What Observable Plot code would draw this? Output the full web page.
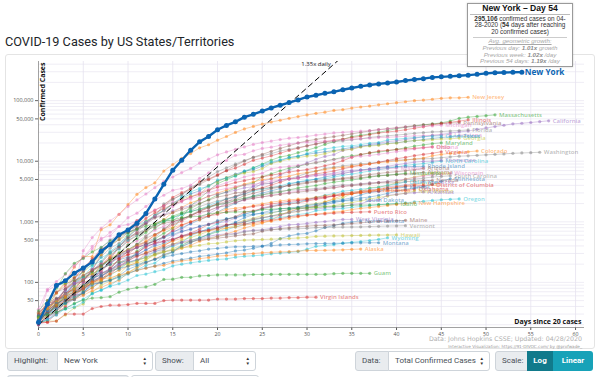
<!DOCTYPE html>
<html><head><meta charset="utf-8">
<script src="https://cdn.jsdelivr.net/npm/d3@7"></script>
<script src="https://cdn.jsdelivr.net/npm/@observablehq/plot@0.6"></script>
<style>
body{margin:0;width:600px;height:377px;overflow:hidden;background:#fff;position:relative;font-family:Roboto,"Open Sans",sans-serif}
#title{position:absolute;left:5px;top:34px;font-size:12.7px;color:#212529;white-space:nowrap}
#panel{position:absolute;left:5px;top:54px;width:588px;height:293px;border:1px solid #e4e4e4;border-radius:3px;background:#fff;overflow:hidden}
#src{position:absolute;right:18px;top:335px;text-align:right;color:#b0b0b0;font-family:"DejaVu Sans",sans-serif;font-size:6.3px;line-height:7px;white-space:nowrap}
#src .s2{font-size:4.2px;line-height:5px;color:#999}
#tip{position:absolute;left:467px;top:3px;width:104px;border:1px solid #9a9a9a;background:rgba(255,255,255,0.97);font-family:"Liberation Sans",Arial,sans-serif;text-align:center;box-shadow:0 0 2px rgba(0,0,0,0.2)}
#tip .t1{font-size:8.6px;font-weight:bold;color:#111;line-height:9.5px;margin:0 2px;border-bottom:1px solid #bbb}
#tip .t2{font-size:6.4px;line-height:6.9px;color:#333;margin:1px 5px 0;border-bottom:1px solid #ccc;padding-bottom:1px}
#tip .t3{font-size:6.2px;line-height:6.7px;color:#a8a8a8;font-style:italic;margin:0 0 1px}
#tip .t3 b{color:#8a8a8a}
.ctl{position:absolute;top:351px;height:20px;box-sizing:border-box;border:1px solid #ced4da;font-size:8px;color:#495057;line-height:18px;padding-left:6px;white-space:nowrap}
.lab{background:#e9ecef}
.sel{background:#fff}
.arr{position:absolute;right:5px;top:4px;font-size:4.5px;line-height:5px;color:#333}
.btn{position:absolute;top:351px;height:20px;color:#fff;font-weight:bold;font-size:8px;line-height:20px;text-align:center}
</style></head>
<body>
<div id="title">COVID-19 Cases by US States/Territories</div>
<div id="panel"></div>
<div id="src">Data: Johns Hopkins CSSE; Updated: 04/28/2020<br><span class="s2">Interactive Visualization: https://91-DIVOC.com/ by @profwade_</span></div>
<div id="tip">
 <div class="t1">New York – Day 54</div>
 <div class="t2"><b>295,106</b> confirmed cases on 04-28-2020 (<b>54</b> days after reaching 20 confirmed cases)</div>
 <div class="t3"><u>Avg. geometric growth:</u><br>Previous day: <b>1.01x</b> growth<br>Previous week: <b>1.02x</b> /day<br>Previous 54 days: <b>1.19x</b> /day</div>
</div>
<div class="ctl lab" style="left:7px;width:51px;border-radius:3px 0 0 3px">Highlight:</div>
<div class="ctl sel" style="left:57px;width:96px;border-radius:0 3px 3px 0">New York<span class="arr">▲<br>▼</span></div>
<div class="ctl lab" style="left:155px;width:39px;border-radius:3px 0 0 3px">Show:</div>
<div class="ctl sel" style="left:193px;width:63px;border-radius:0 3px 3px 0">All<span class="arr">▲<br>▼</span></div>
<div class="ctl lab" style="left:355px;width:34px;border-radius:3px 0 0 3px">Data:</div>
<div class="ctl sel" style="left:388px;width:102px;border-radius:0 3px 3px 0">Total Confirmed Cases<span class="arr">▲<br>▼</span></div>
<div class="ctl lab" style="left:495px;width:33px;border-radius:3px 0 0 3px">Scale:</div>
<div class="btn" style="left:527px;width:26px;background:#117a8b">Log</div>
<div class="btn" style="left:553px;width:40px;background:#17a2b8;border-radius:0 3px 3px 0">Linear</div>
<div class="ctl lab" style="left:7px;top:375px;width:122px;border-radius:3px"></div>
<div class="ctl sel" style="left:131px;top:375px;width:128px;border-radius:3px"></div>
<script>
// ---- data: confirmed cases by day since reaching 20 cases ----
const newYork=[22,44,89,106,142,173,217,326,421,610,732,950,1374,2382,4152,7102,10356,15168,20875,25665,33066,38987,44635,53363,59568,67174,75832,83889,92770,102870,114996,122911,131815,139875,151061,161779,172348,181026,189033,195749,203020,214454,223691,230597,241712,247215,251690,257216,263460,271590,282143,288045,291996,293991,295106];
const newJersey=[23,29,69,98,178,267,267,742,890,1327,1914,2844,3675,4402,6876,8825,11124,13386,16636,18696,22255,25590,29895,34124,37505,41090,44416,47437,51027,54588,58151,61850,64584,68824,71030,75317,78467,81420,85301,88806,92387,95865,99989,102196,105498,109038,111188,111188,113856];
const california=[21,25,35,51,59,81,95,101,144,177,221,282,340,426,557,698,751,952,1177,1364,1642,2108,2538,2998,3899,4657,5095,5852,7138,8210,9399,10773,12004,12837,15034,16019,17351,18897,19710,21081,21706,22795,23931,25356,26686,27677,29157,30491,31431,33686,35396,37344,39254,41355,42368,43558,45031,46500];
const washington=[27,39,70,78,102,122,162,267,366,442,568,642,769,904,1076,1014,1376,1524,1793,1996,2221,2328,2591,3207,3477,4311,4310,4896,5179,5608,6389,6846,7591,7984,8384,8682,9097,9276,9639,10119,10411,10538,10799,10942,11057,11445,11790,12114,12282,12494,12753,12977,13176,13521,13686,13842,14070];
const massachusetts=[28,41,92,95,108,123,138,164,197,218,218,328,413,525,646,777,1159,1838,2417,3240,4257,4955,5752,6620,7738,8966,10402,11736,12500,13837,15202,16790,18941,20974,22860,25475,26867,28163,29918,32181,34402,36372,38077,39643,41199,42944,46023,50969,53348,54938,56462,58302];
const pennsylvania=[22,41,47,66,77,112,152,206,303,396,509,698,946,1260,1795,2345,2845,3432,4155,4963,5805,7016,8570,10017,11589,12980,14559,16239,17990,19979,21719,22938,24292,25465,26753,28258,29888,31652,33232,34528,35684,37053,38652,40049,41165,42050,42616,43264];
const illinois=[25,32,46,64,93,105,160,288,422,585,753,1049,1285,1537,1865,2538,3024,3491,4596,5057,5994,6980,7695,8904,10357,11256,12262,13549,15078,16422,17887,19180,20852,22025,23247,24593,25733,27575,29160,30357,31508,33059,35108,36934,39658,41777,43903,45883,48102];
const michigan=[25,33,53,65,83,334,549,787,1035,1329,1791,2294,2877,3657,4650,5486,6498,7615,9334,10791,12744,14225,15718,17221,18970,20346,21504,22783,23993,24638,25635,27001,28059,29263,30023,30791,31424,32000,32967,33966,35291,36641,37203,37778,38210,39262];
const florida=[28,35,50,76,100,115,155,216,314,390,563,763,1004,1227,1977,2355,2765,3763,4246,5473,6741,7773,9008,10268,11545,12350,13324,14747,15698,16826,17968,19347,20601,21019,21628,22511,23343,24759,25492,26314,27058,27869,28832,29648,30533,30839,31528,32138,32846];
const louisiana=[36,77,103,136,196,257,392,538,585,837,1172,1388,1795,2305,2746,3315,3540,4025,5237,6424,9150,10297,12496,13010,14867,16284,17030,18283,19253,20014,20595,21016,21518,21951,22532,23118,23580,23928,24523,24854,25258,25739,26140,26512,26773,27068,27286];
const texas=[24,30,43,57,72,85,110,173,260,394,566,758,974,1229,1563,1937,2455,2877,3266,3997,4669,5330,6110,6812,7276,8262,9353,10230,11426,12105,13023,13677,14275,14987,15907,16876,17849,18260,18923,19751,20196,21069,21944,22806,23773,24631,25297,26171];
const georgia=[31,42,66,99,121,146,197,287,420,507,600,772,1026,1247,1525,2000,2366,2651,2809,3929,4638,5348,5967,6383,6742,7558,9156,9901,10885,11483,12159,12452,13315,14578,15260,15669,17194,17841,18301,19407,19881,21214,21883,22147,22695,23216,23401,24106];
const connecticut=[20,26,41,68,96,159,194,223,327,415,618,875,1012,1291,1524,1993,2571,3128,3557,3824,4915,5276,5675,6906,7781,8781,9784,10538,11510,12035,13381,14755,15884,16809,17550,17962,18784,19815,20360,22469,23100,23921,24582,25269,25997,26312];
const maryland=[26,32,41,60,85,107,149,190,244,288,349,423,580,774,992,1239,1413,1660,1985,2331,2758,3125,3609,4045,4371,5529,6185,6968,7694,8225,8936,9472,10032,10784,11572,12326,12830,13684,14193,14775,15737,16616,17766,18581,19487,20113];
const virginia=[30,45,49,67,77,99,114,152,219,254,291,391,460,604,739,890,1020,1250,1484,1706,2012,2407,2637,2878,3333,3645,4042,4509,5077,5274,5747,6171,6500,6889,7491,8053,8542,8990,9630,10266,10998,11594,12366,12970,13535,14339];
const colorado=[23,33,45,77,101,131,160,184,277,363,475,591,720,912,1086,1430,1734,2061,2307,2627,2966,3342,3728,4182,4565,4950,5172,5429,5655,6202,6510,6893,7303,7691,7950,8280,8675,9047,9433,9730,10106,10447,10878,11262,12256,12968,13441,13879,14316,14758];
const ohio=[26,50,67,88,119,169,247,351,442,564,704,867,1137,1406,1653,1933,2199,2547,2902,3312,3739,4043,4450,4782,5148,5512,5878,6250,6604,6975,7280,7794,8414,9107,10222,11602,12919,13725,14694,15169,15587,15963,16325,16769,17303];
const indiana=[20,24,30,39,56,79,126,201,259,365,477,645,981,1233,1514,1786,2159,2565,3039,3437,3953,4411,4944,5507,5943,6351,7435,7928,8236,8527,8955,9542,10154,10641,11210,11686,12097,12438,13039,13680,14395,15012,15961,16588,17182];
const northCarolina=[24,33,38,64,97,123,184,255,302,353,495,590,738,886,1020,1167,1307,1498,1584,1857,2093,2402,2585,2870,3221,3426,3651,3908,4312,4520,4886,5024,5123,5465,5859,6140,6493,6895,7220,7608,8052,8542,8830,9142,9568,10000];
const tennessee=[26,39,52,73,98,154,228,371,505,615,667,784,957,1203,1321,1511,1720,1834,2239,2683,2845,3067,3321,3633,3802,4139,4362,4862,5114,5308,5610,5827,6079,6375,6762,7070,7238,7394,7842,8266,8726,9189,9667,9918,10052,10366];
const rhodeIsland=[21,33,44,54,66,83,106,124,165,203,239,294,408,488,566,657,806,922,1082,1229,1450,1727,2015,2349,2665,2976,3251,3529,4177,4491,4706,5090,5500,5841,6256,6699,7129,7439,7708,7926,8041,8126,8200,8247];
const missouri=[28,73,90,106,183,255,356,502,670,838,903,1031,1327,1581,1834,2113,2291,2367,2722,3037,3327,3539,3799,4024,4160,4388,4686,4895,5111,5283,5517,5807,5890,6137,6321,6706,6997,7303,7425,7562,7660];
const arizona=[21,27,45,78,118,152,235,326,401,508,665,773,919,1157,1289,1413,1598,1769,2019,2269,2575,2726,2995,3112,3393,3542,3705,3806,3964,4234,4511,4719,4933,5068,5256,5473,5769,6045,6280,6526,6716,6955,7209,7648];
const alabama=[29,39,51,78,106,131,157,196,242,386,538,639,720,830,947,999,1106,1270,1495,1796,1952,2169,2328,2703,2947,3217,3525,3734,3953,4112,4345,4571,4712,4888,5079,5231,5317,5593,5778,5832,6026,6137,6270,6539];
const iowa=[22,23,23,29,38,44,68,90,105,124,145,179,235,298,336,424,497,549,614,699,786,868,946,1048,1145,1270,1388,1510,1587,1710,1899,1995,2141,2332,2513,2902,3159,3641,3748,3924,4445,5092,5476,5868,6376];
const mississippi=[34,50,80,140,207,249,320,377,485,579,663,758,847,937,1073,1177,1358,1455,1638,1738,1915,2003,2260,2469,2642,2781,2942,3087,3360,3624,3793,3974,4274,4512,4716,4894,5153,5458,5718,5911,6094,6342];
const wisconsin=[21,27,33,47,72,92,106,155,206,281,416,481,585,728,842,989,1112,1221,1351,1550,1730,1916,2112,2267,2440,2578,2756,2885,3068,3213,3341,3428,3555,3721,3875,4045,4199,4346,4499,4620,4845,5052,5356,5687,5911,6081,6289];
const southCarolina=[20,28,33,47,60,81,125,173,195,298,342,424,456,539,774,925,1083,1293,1554,1700,1917,2049,2232,2417,2552,2792,3065,3207,3319,3391,3439,3553,3656,3931,4086,4099,4246,4377,4446,4608,4761,4917,5070,5253,5490,5613,5735];
const minnesota=[21,35,54,60,77,89,115,138,169,235,262,287,346,398,441,503,576,629,689,742,789,865,935,986,1069,1154,1242,1336,1427,1621,1695,1809,1912,2071,2213,2356,2470,2567,2721,2942,3185,3446,3602,3816,4181,4644,5136];
const nevada=[24,45,55,56,95,109,161,190,245,278,321,420,535,621,738,1008,1113,1279,1458,1514,1742,1836,2087,2318,2456,2584,2700,2836,2971,3088,3211,3321,3524,3626,3830,3937,4081,4208,4398,4398,4398,4586,4690,4805,4805];
const kentucky=[21,26,35,47,63,63,104,124,157,198,248,302,394,439,480,591,680,770,831,917,955,1008,1149,1346,1452,1693,1840,1963,2048,2210,2291,2429,2522,2707,2960,3050,3192,3373,3481,3779,3905,4074,4146,4539];
const delaware=[26,30,39,45,56,68,104,119,130,163,214,232,264,319,368,393,450,593,673,783,928,1116,1209,1326,1479,1625,1761,1926,2014,2070,2323,2538,2745,2931,3200,3308,3442,3576,3712,4034,4162,4575];
const utah=[28,39,51,63,78,112,136,181,257,298,346,402,480,602,719,806,887,1012,1074,1255,1428,1605,1675,1738,1846,1980,2103,2207,2303,2363,2412,2542,2683,2805,2931,3069,3213,3296,3445,3612,3782,3948,4123,4233];
const districtOfColumbia=[22,22,31,40,71,77,98,116,137,183,231,267,304,342,401,495,586,653,757,902,998,1097,1211,1440,1523,1660,1778,1875,1955,2058,2197,2350,2476,2666,2793,2927,3098,3206,3361,3528,3699,3841,3892,3994,4106];
const kansas=[21,34,44,55,65,82,107,168,202,261,319,372,428,482,553,620,698,747,845,900,1046,1116,1166,1268,1337,1376,1426,1494,1588,1705,1790,1849,2025,2211,2331,2482,2777,3056,3174,3491,3570,3738];
const oklahoma=[20,29,44,49,53,67,81,106,164,248,322,377,429,481,565,719,879,988,1159,1252,1327,1472,1524,1684,1794,1868,1970,2069,2184,2263,2357,2465,2570,2680,2807,2894,3017,3121,3193,3253,3280,3310,3410];
const nebraska=[27,38,48,51,52,61,73,82,96,108,145,172,210,246,279,321,367,409,478,519,573,635,698,791,871,952,1066,1287,1474,1648,1722,1813,2124,2421,2732,2902,3028,3184,3374];
const newMexico=[23,28,35,43,57,65,83,100,113,136,191,208,237,281,315,363,403,495,543,624,686,794,865,989,1091,1174,1245,1345,1407,1484,1597,1711,1798,1845,1971,2072,2210,2379,2521,2660,2823,2974,3213];
const arkansas=[22,33,46,62,96,100,165,192,218,280,335,381,409,426,473,523,584,643,704,743,837,875,946,1000,1119,1171,1228,1280,1410,1498,1569,1620,1695,1744,1781,1923,1973,2227,2276,2741,2829,2941,3017,3111];
const oregon=[21,24,32,36,39,47,65,75,88,114,137,161,191,209,266,316,414,479,548,606,690,736,826,899,999,1068,1132,1181,1239,1321,1371,1527,1584,1633,1663,1736,1785,1844,1910,1956,2002,2059,2127,2177,2253,2311,2354,2385];
const southDakota=[28,30,41,46,58,68,90,101,108,129,165,187,212,240,288,320,393,447,536,626,730,868,988,1168,1311,1411,1542,1635,1685,1755,1858,1956,2040,2147,2212,2245,2313];
const idaho=[23,31,42,47,68,73,123,189,230,310,415,525,669,891,1013,1078,1170,1210,1232,1353,1407,1426,1453,1464,1473,1587,1609,1655,1668,1672,1692,1736,1766,1802,1836,1870,1887,1897,1917,1952,1984];
const newHampshire=[26,39,44,55,65,78,101,108,137,158,187,214,314,367,415,479,540,621,669,715,747,788,819,885,929,985,1020,1091,1139,1211,1287,1342,1392,1447,1491,1588,1670,1720,1787,1864,1938,2010,2054];
const puertoRico=[23,31,39,51,64,79,100,127,174,239,286,316,378,452,475,513,573,620,683,725,788,897,903,923,974,1043,1068,1118,1213,1252,1298,1316,1349,1389,1416,1433,1450,1464];
const northDakota=[28,30,36,45,52,68,94,98,109,122,142,159,173,186,207,225,237,251,269,278,293,308,331,341,365,393,439,528,585,627,644,709,803,867,942,991,1033];
const maine=[32,43,52,57,70,89,107,142,155,211,253,275,303,344,376,432,456,470,499,519,537,560,586,616,633,698,735,770,796,827,847,867,875,888,907,937,965,990,1015,1023,1040,1056];
const westVirginia=[20,39,51,76,96,113,126,145,162,191,217,237,282,324,345,412,462,502,523,577,611,633,640,702,728,739,785,837,890,908,939,981,1010,1053,1094,1095];
const vermont=[22,29,29,49,52,75,95,123,158,184,211,235,256,293,321,338,389,461,512,543,575,605,628,679,711,727,748,752,759,768,779,803,813,816,818,823,825,834,843,851,855,862];
const hawaii=[26,37,48,56,77,90,95,106,151,175,204,224,258,285,319,342,371,387,410,435,442,465,486,499,504,511,517,524,530,541,553,574,580,584,586,592,596,601,604,606,609];
const wyoming=[22,24,29,37,44,53,65,74,86,95,109,130,137,150,162,187,200,210,221,230,239,244,261,270,275,282,296,305,313,322,353,393,408,420,443,459,473,491,513,545];
const montana=[24,34,45,51,65,90,121,129,154,171,184,198,217,241,262,281,299,319,332,354,365,377,387,387,394,399,404,415,422,426,433,437,439,442,444,448,449,451,451];
const alaska=[22,36,42,59,69,85,102,114,119,133,143,157,171,185,191,213,226,235,246,257,272,277,285,293,300,309,314,319,321,329,335,337,339,341,345,351,355];
const guam=[27,29,32,37,45,51,55,56,58,69,77,82,84,93,112,113,121,121,128,130,133,133,133,133,135,135,136,136,136,136,136,136,136,139,141,141,141,141];
const virginIslands=[21,22,23,30,30,30,37,40,42,42,43,45,45,45,50,51,51,51,51,51,53,53,53,54,54,54,55,55,56,56,57,57];

const stateNames=["New York","New Jersey","California","Washington","Massachusetts","Pennsylvania","Illinois","Michigan","Florida","Louisiana","Texas","Georgia","Connecticut","Maryland","Virginia","Colorado","Ohio","Indiana","North Carolina","Tennessee","Rhode Island","Missouri","Arizona","Alabama","Iowa","Mississippi","Wisconsin","South Carolina","Minnesota","Nevada","Kentucky","Delaware","Utah","District of Columbia","Kansas","Oklahoma","Nebraska","New Mexico","Arkansas","Oregon","South Dakota","Idaho","New Hampshire","Puerto Rico","North Dakota","Maine","West Virginia","Vermont","Hawaii","Wyoming","Montana","Alaska","Guam","Virgin Islands"];
const stateValues=[newYork,newJersey,california,washington,massachusetts,pennsylvania,illinois,michigan,florida,louisiana,texas,georgia,connecticut,maryland,virginia,colorado,ohio,indiana,northCarolina,tennessee,rhodeIsland,missouri,arizona,alabama,iowa,mississippi,wisconsin,southCarolina,minnesota,nevada,kentucky,delaware,utah,districtOfColumbia,kansas,oklahoma,nebraska,newMexico,arkansas,oregon,southDakota,idaho,newHampshire,puertoRico,northDakota,maine,westVirginia,vermont,hawaii,wyoming,montana,alaska,guam,virginIslands];
const stateColors=["#0b64b2","#ff7f0e","#9467bd","#7f7f7f","#2ca02c","#8c564b","#d62728","#e377c2","#7f7f7f","#e377c2","#1f77b4","#bcbd22","#17becf","#2ca02c","#d62728","#ff7f0e","#d62728","#e377c2","#17becf","#9467bd","#1f77b4","#e377c2","#8c564b","#8c564b","#bcbd22","#2ca02c","#e377c2","#7f7f7f","#1f77b4","#8c564b","#9467bd","#17becf","#ff7f0e","#d62728","#1f77b4","#d62728","#ff7f0e","#bcbd22","#9467bd","#17becf","#1f77b4","#2ca02c","#ff7f0e","#d62728","#1f77b4","#8c564b","#9467bd","#7f7f7f","#bcbd22","#17becf","#1f77b4","#ff7f0e","#2ca02c","#d62728"];
const highlight="New York";
const xTicks=[0,5,10,15,20,25,30,35,40,45,50,55,60];
const yTicks=[50,100,500,1000,5000,10000,50000,100000];
const yTickLabels=["50","100","500","1,000","5,000","10,000","50,000","100,000"];
const yDomain=[18,442659];
const guideDays=[0,34];
const guideValues=[20,20*Math.pow(1.35,34)];
const guideLabel="1.35x daily";

// ---- build tables ----
const rows=stateNames.flatMap((s,i)=>stateValues[i].map((v,d)=>({state:s,day:d,cases:v,color:stateColors[i]})));
const ends=stateNames.map((s,i)=>({state:s,day:stateValues[i].length-1,cases:stateValues[i][stateValues[i].length-1],color:stateColors[i]}));
const others=rows.filter(r=>r.state!==highlight);
const hl=rows.filter(r=>r.state===highlight);
const otherEnds=ends.filter(r=>r.state!==highlight);
const hlEnd=ends.filter(r=>r.state===highlight);
const guide=guideDays.map((d,i)=>({day:d,cases:guideValues[i]}));
const yTickRows=yTicks.map((v,i)=>({v,label:yTickLabels[i]}));
const minorGrid=[10,100,1000,10000,100000].flatMap(b=>[1,2,3,4,5,6,7,8,9].map(m=>b*m)).filter(v=>v>=yDomain[0]&&v<=yDomain[1]);

const chart=Plot.plot({
  width:588,height:293,
  marginLeft:32,marginRight:10,marginTop:6,marginBottom:21,
  x:{domain:[0,61]},
  y:{type:"log",domain:yDomain},
  color:{type:"identity"},
  style:{fontFamily:"'Open Sans',sans-serif",fontSize:"5.5px",color:"#555",background:"transparent",overflow:"visible"},
  marks:[
    Plot.ruleY(minorGrid,{stroke:"#ebe8f3",strokeWidth:0.8}),
    Plot.ruleX(xTicks.filter(d=>d>0),{stroke:"#e6e2ef",strokeWidth:0.8}),
    Plot.axisY(yTicks,{tickFormat:()=>"",tickSize:3,label:null,color:"#666"}),
    Plot.text(yTickRows,{x:0,y:"v",text:"label",textAnchor:"end",dx:-5,fontSize:5.5,fill:"#555"}),
    Plot.axisX(xTicks,{tickFormat:d=>String(d),tickSize:3,tickPadding:2,label:null,fontSize:5.2,color:"#555"}),
    Plot.ruleX([0],{stroke:"#8a8a8a",strokeWidth:0.8}),
    Plot.ruleY([yDomain[0]],{stroke:"#8a8a8a",strokeWidth:0.8}),
    Plot.line(others,{x:"day",y:"cases",z:"state",stroke:"color",strokeOpacity:0.35,strokeWidth:1}),
    Plot.dot(others,{x:"day",y:"cases",r:1.6,fill:"color",fillOpacity:0.5,stroke:null}),
    Plot.line(guide,{x:"day",y:"cases",stroke:"#000",strokeWidth:1,strokeDasharray:"5,4",clip:true}),
    Plot.text([guideLabel],{x:33,y:400000,text:d=>d,textAnchor:"end",dx:-3,fontSize:6,fill:"#222",fontFamily:"'Open Sans',sans-serif"}),
    Plot.text(otherEnds,{x:"day",y:"cases",text:"state",dx:4,textAnchor:"start",fill:"color",fillOpacity:0.55,fontSize:6,fontWeight:600}),
    Plot.line(hl,{x:"day",y:"cases",stroke:"color",strokeWidth:2.4}),
    Plot.dot(hl,{x:"day",y:"cases",r:2.5,fill:"color",stroke:null}),
    Plot.text(hlEnd,{x:"day",y:"cases",text:"state",dx:3,textAnchor:"start",fill:"color",fontSize:8.2,fontWeight:"bold"}),
    Plot.text(["Confirmed Cases"],{frameAnchor:"top-left",rotate:-90,textAnchor:"end",lineAnchor:"top",dx:2,dy:1,fontSize:7,fontWeight:"bold",fill:"#111",text:d=>d}),
    Plot.text(["Days since 20 cases"],{frameAnchor:"bottom-right",textAnchor:"end",dx:-3,dy:-4,fontSize:7,fontWeight:"bold",fill:"#111",text:d=>d})
  ]
});
document.getElementById("panel").appendChild(chart);
</script>
</body></html>
